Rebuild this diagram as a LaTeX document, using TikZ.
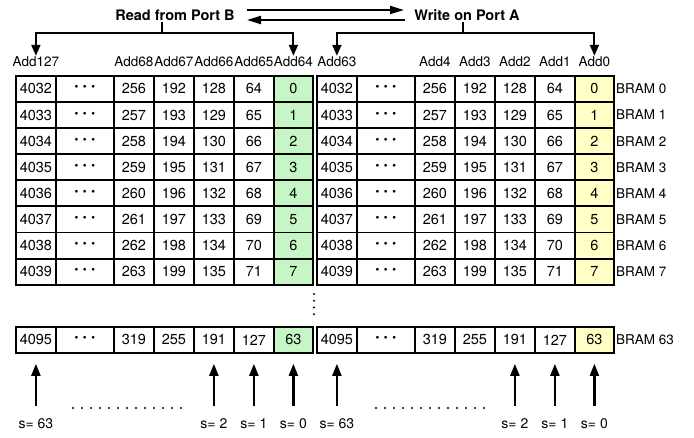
\documentclass[tikz,border=0pt]{standalone}
\usepackage{fontspec}
\setmainfont{TeX Gyre Heros}
\usetikzlibrary{arrows.meta}
\definecolor{readgreen}{RGB}{198,246,198}
\definecolor{writeyellow}{RGB}{255,255,198}

\newcommand{\celldots}{{\bfseries\fontsize{19}{19}\selectfont\textperiodcentered\,\textperiodcentered\,\textperiodcentered}}

\tikzset{
  cellbox/.style={draw, line width=1.8pt, inner sep=0pt, anchor=north west,
    minimum height=26pt, font=\fontsize{14.5}{14.5}\selectfont},
  addlabel/.style={font=\fontsize{13.5}{13.5}\selectfont, inner sep=1pt},
  bramlabel/.style={font=\fontsize{13.5}{13.5}\selectfont, anchor=west, inner sep=1pt},
  portlabel/.style={font=\bfseries\fontsize{14.5}{14.5}\selectfont, inner sep=1pt},
  slabel/.style={font=\fontsize{14}{14}\selectfont, inner sep=1pt},
  bracket/.style={line width=2pt},
  downarrow/.style={line width=2pt, -{Triangle[width=9pt,length=11pt]}},
  uparrow/.style={line width=2.2pt, -{Triangle[width=9pt,length=12pt]}},
  portarrow/.style={line width=2pt, -{Triangle[width=8pt,length=14pt]}},
  dotrow/.style={line width=2.2pt, line cap=round, dash pattern=on 0pt off 9pt},
}

\begin{document}
\begin{tikzpicture}[x=1pt, y=-1pt]
  \useasboundingbox (0,0) rectangle (694,437);
  \fill[white] (0,0) rectangle (694,437);

  % column offsets and widths inside one block
  \def\colx{{0,40,98,138,178,218,258}}
  \def\colw{{40,58,40,40,40,40,39}}

  % two blocks of memory cells: name prefix, left x, highlight colour
  \foreach \blk/\bx/\hl in {L/15/readgreen, R/316/writeyellow} {
    % BRAM 0 ... BRAM 7
    \foreach \r in {0,...,7} {
      \pgfmathsetmacro{\ty}{75+26.1*\r}
      \foreach \c/\v in {0/{\the\numexpr4032+\r\relax},
                         1/{\celldots},
                         2/{\the\numexpr256+\r\relax},
                         3/{\the\numexpr192+\r\relax},
                         4/{\the\numexpr128+\r\relax},
                         5/{\the\numexpr64+\r\relax},
                         6/{\r}} {
        \pgfmathsetmacro{\cx}{\bx+\colx[\c]}
        \pgfmathsetmacro{\cw}{\colw[\c]}
        \ifnum\c=6
          \node[cellbox, fill=\hl, minimum width=\cw pt] (\blk-\r-\c) at (\cx,\ty) {\v};
        \else
          \node[cellbox, minimum width=\cw pt] (\blk-\r-\c) at (\cx,\ty) {\v};
        \fi
      }
    }
    % BRAM 63
    \foreach \c/\v in {0/4095, 1/{\celldots}, 2/319, 3/255, 4/191, 5/127, 6/63} {
      \pgfmathsetmacro{\cx}{\bx+\colx[\c]}
      \pgfmathsetmacro{\cw}{\colw[\c]}
      \ifnum\c=6
        \node[cellbox, fill=\hl, minimum width=\cw pt] (\blk-63-\c) at (\cx,326) {\v};
      \else
        \node[cellbox, minimum width=\cw pt] (\blk-63-\c) at (\cx,326) {\v};
      \fi
    }
  }

  % row names
  \foreach \r in {0,...,7} {
    \node[bramlabel] (bram\r) at (R-\r-6.east) {BRAM \r};
  }
  \node[bramlabel] (bram63) at (R-63-6.east) {BRAM 63};

  % address labels above the columns
  \node[addlabel] (a127) at (L-0-0 |- 0,62) {Add127};
  \node[addlabel] (a68)  at (L-0-2 |- 0,62) {Add68};
  \node[addlabel] (a67)  at (L-0-3 |- 0,62) {Add67};
  \node[addlabel] (a66)  at (L-0-4 |- 0,62) {Add66};
  \node[addlabel] (a65)  at (L-0-5 |- 0,62) {Add65};
  \node[addlabel] (a64)  at (L-0-6 |- 0,62) {Add64};
  \node[addlabel] (a63)  at (R-0-0 |- 0,62) {Add63};
  \node[addlabel] (a4)   at (R-0-2 |- 0,62) {Add4};
  \node[addlabel] (a3)   at (R-0-3 |- 0,62) {Add3};
  \node[addlabel] (a2)   at (R-0-4 |- 0,62) {Add2};
  \node[addlabel] (a1)   at (R-0-5 |- 0,62) {Add1};
  \node[addlabel] (a0)   at (R-0-6 |- 0,62) {Add0};

  % port labels and the read/write arrows between them
  \node[portlabel] (rd) at (175,15) {Read from Port B};
  \node[portlabel] (wr) at (467,15) {Write on Port A};
  \coordinate (pa) at (247,10);
  \coordinate (pb) at (404,10);
  \coordinate (pc) at (405,20);
  \coordinate (pd) at (247,20);
  \draw[portarrow] (pa) -- (pb);
  \draw[portarrow] (pc) -- (pd);

  % brackets from the port labels to the first and last address
  \coordinate (rj) at (162,33);
  \coordinate (wj) at (463,33);
  \draw[bracket] (rj |- rd.south) -- (rj);
  \draw[bracket] (wj |- wr.south) -- (wj);
  \draw[downarrow] (rj) -| (a127.north);
  \draw[downarrow] (rj) -| (a64.north);
  \draw[downarrow] (wj) -| (a63.north);
  \draw[downarrow] (wj) -| (a0.north);

  % the rows between BRAM 7 and BRAM 63 are left out
  \coordinate (vd1) at (314,294);
  \coordinate (vd2) at (314,321);
  \draw[dotrow, dash pattern=on 0pt off 6.75pt] (vd1) -- (vd2);

  % shift values feeding each column
  \foreach \blk in {L,R} {
    \node[slabel] (\blk-s63) at (\blk-63-0 |- 0,424) {s= 63};
    \node[slabel] (\blk-s2)  at (\blk-63-4 |- 0,424) {s= 2};
    \node[slabel] (\blk-s1)  at (\blk-63-5 |- 0,424) {s= 1};
    \node[slabel] (\blk-s0)  at (\blk-63-6 |- 0,424) {s= 0};
    \foreach \s/\c in {63/0, 2/4, 1/5, 0/6} {
      \draw[uparrow, shorten <=12pt, shorten >=10pt] (\blk-s\s.north) -- (\blk-63-\c.south);
    }
  }
  \coordinate (hl1) at (73,408);
  \coordinate (hl2) at (183,408);
  \coordinate (hr1) at (376,408);
  \coordinate (hr2) at (490,408);
  \draw[dotrow] (hl1) -- (hl2);
  \draw[dotrow] (hr1) -- (hr2);
\end{tikzpicture}
\end{document}
